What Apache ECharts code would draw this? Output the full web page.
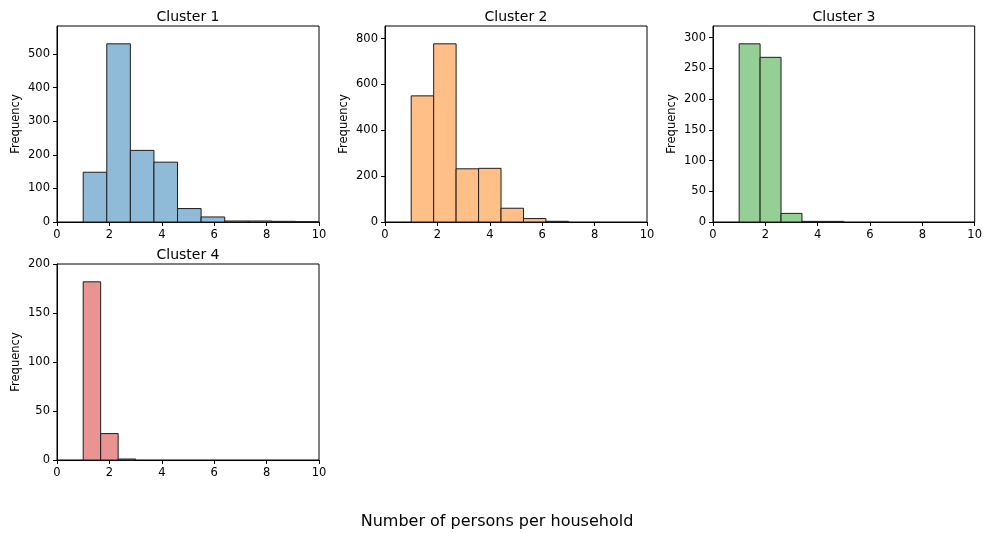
<!DOCTYPE html>
<html>
<head>
<meta charset="utf-8">
<script src="https://cdn.jsdelivr.net/npm/echarts@6/dist/echarts.min.js"></script>
<style>
  html, body { margin: 0; padding: 0; background: #fff; }
  #chart { width: 985px; height: 533px; }
</style>
</head>
<body>
<div id="chart"></div>
<script>
// Household size histograms, one panel per cluster
const clusterNames = ['Cluster 1', 'Cluster 2', 'Cluster 3', 'Cluster 4'];

// Histogram bin ranges [first edge, last edge] for each cluster
const c1Range = [1, 10];
const c2Range = [1, 7];
const c3Range = [1, 5];
const c4Range = [1, 3];

// Bin counts for each cluster
const c1Counts = [148, 530, 213, 178, 40, 15, 3, 3, 2, 1];
const c2Counts = [550, 777, 232, 234, 60, 15, 3];
const c3Counts = [290, 268, 14, 1, 1];
const c4Counts = [182, 27, 1];

// Y tick spacing per panel
const yIntervals = [100, 200, 50, 50];
const xTicks = [0, 2, 4, 6, 8, 10];

const fills = ['#8fbbd9', '#ffbf86', '#95cf95', '#ea9393'];
const ranges = [c1Range, c2Range, c3Range, c4Range];
const counts = [c1Counts, c2Counts, c3Counts, c4Counts];

// Panel frames: left, top, width, height
const frames = [
  [57, 26, 262, 196],
  [385, 26, 262, 196],
  [713, 26, 262, 196],
  [57, 264, 262, 196]
];

const FONT = 'DejaVu Sans';

function binRows(range, cnt) {
  const w = (range[1] - range[0]) / cnt.length;
  return cnt.map((c, i) => [range[0] + i * w, range[0] + (i + 1) * w, c]);
}

const grids = [], xAxes = [], yAxes = [], series = [], titles = [];
frames.forEach((f, i) => {
  grids.push({ left: f[0], top: f[1], width: f[2], height: f[3], show: true,
    borderColor: '#000', borderWidth: 1, backgroundColor: 'transparent', containLabel: false });
  xAxes.push({
    gridIndex: i, type: 'value', min: 0, max: 10, interval: 2,
    axisLine: { show: true, onZero: false, lineStyle: { color: '#000', width: 1 } },
    axisTick: { show: true, length: 4, lineStyle: { color: '#000' } },
    axisLabel: { color: '#000', fontFamily: FONT, fontSize: 11.5, margin: 7,
      formatter: v => xTicks.includes(v) ? String(v) : '' },
    splitLine: { show: false }
  });
  const maxC = Math.max(...counts[i]);
  yAxes.push({
    gridIndex: i, type: 'value', min: 0, max: maxC * 1.1, interval: yIntervals[i],
    name: 'Frequency', nameLocation: 'middle', nameRotate: 90, nameGap: 35,
    nameTextStyle: { color: '#000', fontFamily: FONT, fontSize: 11.5 },
    axisLine: { show: true, lineStyle: { color: '#000', width: 1 } },
    axisTick: { show: true, length: 4, lineStyle: { color: '#000' } },
    axisLabel: { color: '#000', fontFamily: FONT, fontSize: 11.5, margin: 7, showMaxLabel: false },
    splitLine: { show: false }
  });
  titles.push({
    text: clusterNames[i], left: f[0] + f[2] / 2 - 5, top: f[1] - 21, textAlign: 'center',
    textStyle: { color: '#000', fontFamily: FONT, fontSize: 14, fontWeight: 'normal' }
  });
  const fill = fills[i];
  series.push({
    type: 'custom', xAxisIndex: i, yAxisIndex: i,
    data: binRows(ranges[i], counts[i]),
    encode: { x: [0, 1], y: 2 },
    renderItem: function (params, api) {
      const p0 = api.coord([api.value(0), api.value(2)]);
      const p1 = api.coord([api.value(1), 0]);
      return {
        type: 'rect',
        shape: { x: p0[0], y: p0[1], width: p1[0] - p0[0], height: p1[1] - p0[1] },
        style: { fill: fill, stroke: '#1e1e1e', lineWidth: 1 }
      };
    }
  });
});

titles.push({
  text: 'Number of persons per household', left: 492, top: 509, textAlign: 'center',
  textStyle: { color: '#000', fontFamily: FONT, fontSize: 16, fontWeight: 'normal' }
});

const chart = echarts.init(document.getElementById('chart'), null, { renderer: 'canvas' });
chart.setOption({
  animation: false,
  backgroundColor: '#fff',
  title: titles,
  grid: grids,
  xAxis: xAxes,
  yAxis: yAxes,
  series: series
});
</script>
</body>
</html>
